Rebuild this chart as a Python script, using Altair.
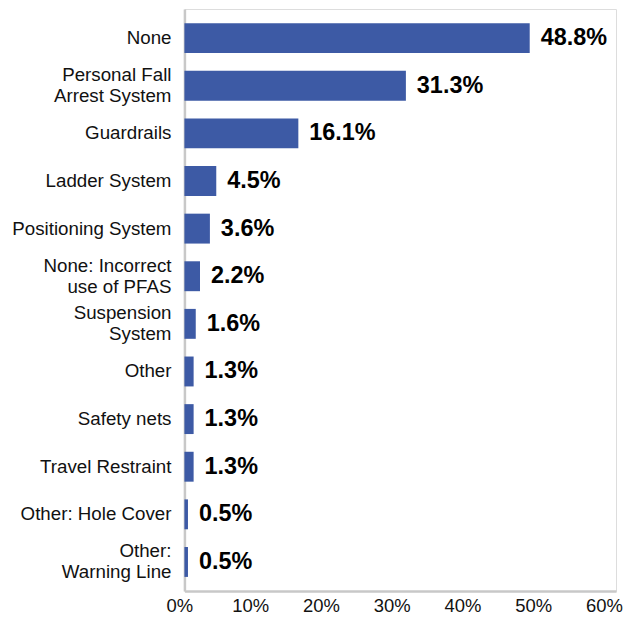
import altair as alt
import pandas as pd

categories = [
    "None",
    "Personal Fall|Arrest System",
    "Guardrails",
    "Ladder System",
    "Positioning System",
    "None: Incorrect|use of PFAS",
    "Suspension|System",
    "Other",
    "Safety nets",
    "Travel Restraint",
    "Other: Hole Cover",
    "Other:|Warning Line",
]
values = [48.8, 31.3, 16.1, 4.5, 3.6, 2.2, 1.6, 1.3, 1.3, 1.3, 0.5, 0.5]
x_ticks = [0, 10, 20, 30, 40, 50, 60]

LINE_H = 21
HALF_BAND = 15  # yOffset is measured from the top of the band

df = pd.DataFrame({"category": categories, "value": values})

# one row per label line, so multi-line category names are centred on their bar
rows = []
for cat in categories:
    parts = cat.split("|")
    n = len(parts)
    for i, p in enumerate(parts):
        rows.append({"category": cat, "line": p,
                     "off": HALF_BAND + (i - (n - 1) / 2) * LINE_H})
lab_df = pd.DataFrame(rows)

FONT = "Liberation Sans, Arial, sans-serif"

yscale = alt.Scale(paddingInner=0.372, paddingOuter=0.298)

yenc = alt.Y(
    "category:N",
    sort=categories,
    scale=yscale,
    axis=alt.Axis(
        title=None,
        labels=False,
        ticks=False,
        domainColor="#C8C8C8",
        domainWidth=2.5,
    ),
)

xscale = alt.Scale(domain=[0, 61.0], nice=False, zero=True)

bars = alt.Chart(df).mark_bar(color="#3D5AA5").encode(
    y=yenc,
    x=alt.X(
        "value:Q",
        scale=xscale,
        axis=alt.Axis(
            title=None,
            values=x_ticks,
            labelExpr="datum.value + '%'",
            labelFont=FONT,
            labelFontSize=18.5,
            labelColor="#111111",
            labelPadding=5,
            labelOffset=-5,
            ticks=False,
            grid=False,
            domainColor="#C8C8C8",
            domainWidth=2.5,
            labelFlush=False,
        ),
    ),
)

values_text = alt.Chart(df).transform_calculate(
    label="format(datum.value, '.1f') + '%'"
).mark_text(
    align="left",
    baseline="middle",
    dx=11,
    font=FONT,
    fontSize=23.5,
    fontWeight="bold",
    color="#000000",
).encode(
    y=alt.Y("category:N", sort=categories),
    x=alt.X("value:Q", scale=xscale),
    text="label:N",
)

cat_text = alt.Chart(lab_df).mark_text(
    align="right",
    baseline="middle",
    font=FONT,
    fontSize=18.8,
    color="#111111",
).encode(
    y=alt.Y("category:N", sort=categories),
    yOffset=alt.YOffset("off:Q", scale=None),
    x=alt.value(-13),
    text="line:N",
)

chart = (
    alt.layer(bars, values_text, cat_text)
    .properties(
        width=433,
        height=584,
        autosize=alt.AutoSizeParams(type="none"),
        padding={"left": 177, "top": 0, "right": 10, "bottom": 28},
    )
    .configure_view(stroke=None)
    .configure(background="white")
)

chart.save("out.html", embed_options={"renderer": "svg", "actions": False})
